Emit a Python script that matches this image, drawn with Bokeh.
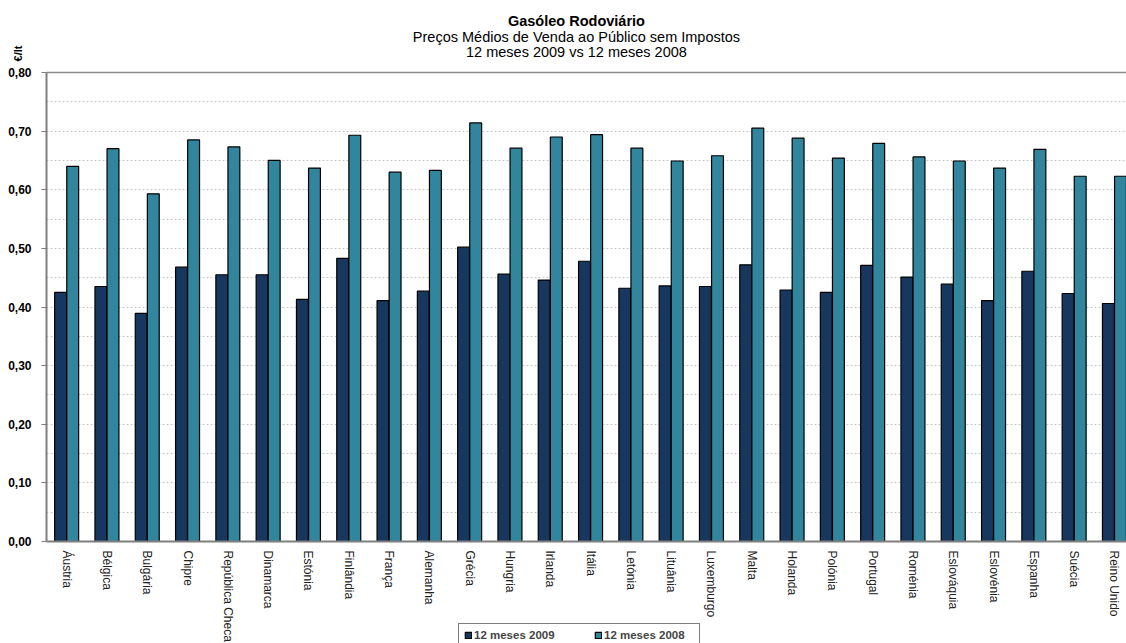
from math import pi
from bokeh.plotting import figure
from bokeh.models import (ColumnDataSource, Range1d, FixedTicker, CustomJSTickFormatter,
                          Label, Grid, BoxAnnotation)
from bokeh.transform import dodge
from bokeh.embed import file_html
from bokeh.resources import INLINE

countries = ["Áustria", "Bélgica", "Bulgária", "Chipre", "República Checa", "Dinamarca",
             "Estónia", "Finlândia", "França", "Alemanha", "Grécia", "Hungria", "Irlanda",
             "Itália", "Letónia", "Lituânia", "Luxemburgo", "Malta", "Holanda", "Polónia",
             "Portugal", "Roménia", "Eslováquia", "Eslovénia", "Espanha", "Suécia", "Reino Unido"]
y2009 = [0.425, 0.435, 0.389, 0.468, 0.455, 0.455, 0.413, 0.483, 0.411, 0.427, 0.502, 0.456,
         0.446, 0.478, 0.432, 0.436, 0.435, 0.472, 0.429, 0.425, 0.471, 0.451, 0.439, 0.411,
         0.461, 0.423, 0.406]
y2008 = [0.640, 0.670, 0.593, 0.685, 0.673, 0.650, 0.637, 0.693, 0.630, 0.633, 0.714, 0.671,
         0.690, 0.694, 0.671, 0.649, 0.658, 0.705, 0.688, 0.654, 0.679, 0.656, 0.649, 0.637,
         0.669, 0.623, 0.623]
y_ticks = [0.0, 0.1, 0.2, 0.3, 0.4, 0.5, 0.6, 0.7, 0.8]
grid_ticks = [0.05, 0.1, 0.15, 0.2, 0.25, 0.3, 0.35, 0.4, 0.45, 0.5, 0.55, 0.6, 0.65, 0.7, 0.75]
series_names = ["12 meses 2009", "12 meses 2008"]
title_lines = ["Gasóleo Rodoviário", "Preços Médios de Venda ao Público sem Impostos",
               "12 meses 2009 vs 12 meses 2008"]
unit_label = "€/lt"

FONT = "Liberation Sans"
C2009 = "#17375E"
C2008 = "#31859C"

# layout: the frame covers the whole canvas, axes are drawn at fixed locations
W, H = 1126, 643
AX_LEFT, AX_TOP, AX_BOTTOM = 46, 72, 541      # pixel positions of the axes box
PX_X = 40.3                                    # pixels per category
Y_MAX = 0.8
PX_Y = (AX_BOTTOM - AX_TOP) / Y_MAX
x_lo = -0.5 - AX_LEFT / PX_X
x_hi = -0.5 + (W - AX_LEFT) / PX_X
y_lo = -(H - AX_BOTTOM) / PX_Y
y_hi = Y_MAX + AX_TOP / PX_Y

idx = list(range(len(countries)))
src = ColumnDataSource(dict(x=idx, a=y2009, b=y2008))

p = figure(width=W, height=H, output_backend="svg", toolbar_location=None,
           x_range=Range1d(x_lo, x_hi), y_range=Range1d(y_lo, y_hi),
           min_border=0, min_border_left=0, min_border_right=0,
           min_border_top=0, min_border_bottom=0)
p.background_fill_color = "white"
p.border_fill_color = "white"
p.outline_line_color = None

# grid
p.xgrid.visible = False
g = p.ygrid[0]
g.ticker = FixedTicker(ticks=grid_ticks)
g.grid_line_color = "#c8c8c8"
g.grid_line_dash = "2 2"
g.grid_line_width = 1
top_grid = Grid(dimension=1, ticker=FixedTicker(ticks=[Y_MAX]), grid_line_color="#8c8c8c",
                grid_line_width=1.5)
p.add_layout(top_grid)
has_cb = "cross_bounds" in g.properties()
if has_cb:
    g.cross_bounds = (-0.5, x_hi)
    top_grid.cross_bounds = (-0.5, x_hi)
else:
    p.add_layout(BoxAnnotation(right=-0.5, fill_color="white", fill_alpha=1,
                               line_color=None, level="underlay"))

r1 = p.vbar(x=dodge("x", -0.15, range=p.x_range), top="a", width=0.295, source=src,
            fill_color=C2009, line_color="black", line_width=1.2, legend_label=series_names[0])
r2 = p.vbar(x=dodge("x", 0.15, range=p.x_range), top="b", width=0.295, source=src,
            fill_color=C2008, line_color="black", line_width=1.2, legend_label=series_names[1])

# axes
xa = p.xaxis[0]
xa.fixed_location = 0
xa.bounds = (-0.5, x_hi)
xa.ticker = FixedTicker(ticks=idx)
xa.major_label_overrides = {i: c for i, c in zip(idx, countries)}
xa.major_label_orientation = "vertical"
xa.major_tick_line_color = None
xa.minor_tick_line_color = None
xa.major_tick_out = 0
xa.major_tick_in = 0
xa.major_label_standoff = 9
xa.major_label_text_font = FONT
xa.major_label_text_font_size = "12px"
xa.major_label_text_color = "#222222"
xa.axis_line_color = "#7f7f7f"
xa.axis_line_width = 2

ya = p.yaxis[0]
ya.fixed_location = -0.5
ya.bounds = (0, Y_MAX)
ya.ticker = FixedTicker(ticks=y_ticks)
ya.formatter = CustomJSTickFormatter(code="return tick.toFixed(2).replace('.', ',');")
ya.major_label_text_font = FONT
ya.major_label_text_font_size = "12px"
ya.major_label_text_font_style = "bold"
ya.major_label_text_color = "black"
ya.major_tick_out = 5
ya.major_tick_in = 0
ya.major_tick_line_color = "#7f7f7f"
ya.minor_tick_line_color = None
ya.major_label_standoff = 10
ya.axis_line_color = "#7f7f7f"
ya.axis_line_width = 2

# titles
title_x = 12.65
for txt, off, bold in [(title_lines[0], 52, True), (title_lines[1], 36, False),
                       (title_lines[2], 21, False)]:
    p.add_layout(Label(x=title_x, y=Y_MAX, y_offset=off, text=txt, text_align="center",
                       text_baseline="middle", text_font=FONT, text_font_size="14.5px",
                       text_font_style="bold" if bold else "normal", text_color="black"))

p.add_layout(Label(x=-0.5, y=Y_MAX, x_offset=-29, y_offset=19, text=unit_label, angle=pi / 2,
                   text_align="center", text_baseline="middle", text_font=FONT,
                   text_font_size="11px", text_font_style="bold", text_color="black"))

# legend
lg = p.legend[0]
lg.location = (458, -4)
lg.orientation = "horizontal"
lg.border_line_color = "black"
lg.border_line_width = 1
lg.background_fill_color = "white"
lg.background_fill_alpha = 1
lg.label_text_font = FONT
lg.label_text_font_size = "11.5px"
lg.label_text_font_style = "bold"
lg.glyph_width = 8
lg.glyph_height = 8
lg.label_standoff = 2
lg.label_width = 90
lg.spacing = 30
lg.padding = 5
lg.margin = 0

open("out.html", "w").write(file_html(p, INLINE))
